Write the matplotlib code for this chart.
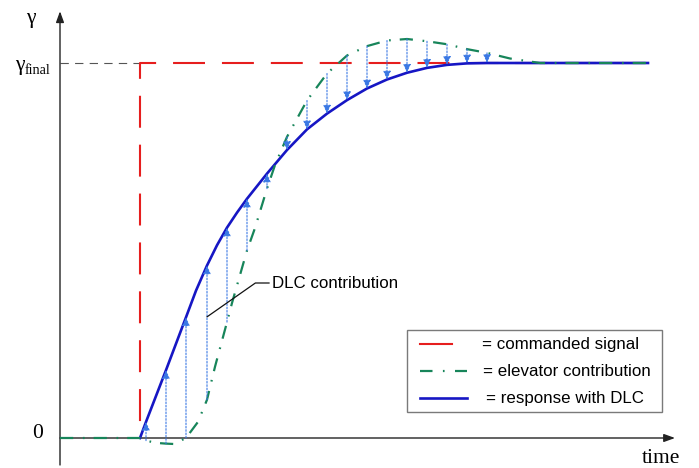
import numpy as np
import matplotlib
matplotlib.use("Agg")
import matplotlib.pyplot as plt

plt.rcParams["lines.scale_dashes"] = False

# Time axis in arbitrary units (step command at t = 0), response normalised to gamma_final = 1
cmd_t = [0.0, 0.0, 25.4]
cmd_y = [0.0, 1.0, 1.0]

elev_t = [-4.0, 0.0, 0.3, 0.8, 1.3, 1.7, 2.3, 2.9, 3.35, 3.75, 4.35, 4.6, 5.35, 5.75,
          6.35, 6.75, 7.35, 8.35, 9.35, 10.35, 11.35, 12.35, 13.35, 14.35, 15.35,
          16.35, 17.35, 18.5, 20.0, 25.4]
elev_y = [0.0, 0.0, -0.007, -0.013, -0.015, -0.016, 0.0, 0.043, 0.102, 0.19, 0.309, 0.36,
          0.5, 0.56, 0.665, 0.728, 0.803, 0.9, 0.972, 1.02, 1.045, 1.06, 1.064, 1.058,
          1.05, 1.037, 1.027, 1.012, 1.0, 1.0]

resp_t = [0.0, 0.3, 1.3, 2.3, 2.8, 3.35, 3.85, 4.35, 4.85, 5.35, 6.35, 7.35, 8.35, 9.35,
          10.35, 11.35, 12.35, 13.35, 14.35, 15.35, 16.35, 17.35, 25.4]
resp_y = [0.0, 0.043, 0.181, 0.322, 0.393, 0.46, 0.514, 0.561, 0.601, 0.638, 0.705,
          0.768, 0.823, 0.865, 0.901, 0.932, 0.956, 0.974, 0.987, 0.995, 0.999, 1.0, 1.0]

# DLC contribution arrows (from elevator contribution to response)
dlc_t = [0.3, 1.3, 2.3, 3.35, 4.35, 5.35, 6.35, 7.35, 8.35, 9.35, 10.35, 11.35,
         12.35, 13.35, 14.35, 15.35, 16.35, 17.35]

legend_labels = ["= commanded signal", "= elevator contribution", "= response with DLC"]

RED = "#e61e1e"
GREEN = "#17855a"
BLUE = "#1616c4"
LBLUE = "#3a78e4"

W, H = 699, 468
fig = plt.figure(figsize=(W / 100, H / 100), dpi=100)
ax = fig.add_axes([0, 0, 1, 1])
# pixel mapping: x_px = 140 + 20 t ; y_px = 438 - 375 y
ax.set_xlim(-7.0, (W - 140) / 20)
ax.set_ylim((438 - H) / 375, 438 / 375)
ax.axis("off")


def fpos(x, y):
    return x / W, 1 - y / H


# axes with arrows
ax.annotate("", xy=(-4, 1.138), xytext=(-4, -0.072),
            arrowprops=dict(arrowstyle="-|>,head_length=0.55,head_width=0.2",
                            color="#222222", lw=1.0, mutation_scale=12, shrinkA=0, shrinkB=0))
ax.annotate("", xy=(26.75, 0), xytext=(-4, 0),
            arrowprops=dict(arrowstyle="-|>,head_length=0.55,head_width=0.2",
                            color="#222222", lw=1.0, mutation_scale=12, shrinkA=0, shrinkB=0))

# gamma_final reference line
ax.plot([-4, 0], [1, 1], color="#555555", lw=0.8, linestyle=(0, (6, 4.5)))

ax.plot(cmd_t, cmd_y, color=RED, lw=1.5, linestyle=(23, (23, 12.2)), zorder=3)
ax.plot(resp_t, resp_y, color=BLUE, lw=1.9, zorder=4, solid_joinstyle="round")
ax.plot(elev_t, elev_y, color=GREEN, lw=1.6, linestyle=(0, (9.5, 7, 1.2, 6.5)), zorder=5)

for t in dlc_t:
    y0 = np.interp(t, elev_t, elev_y)
    y1 = np.interp(t, resp_t, resp_y)
    ax.annotate("", xy=(t, y1), xytext=(t, y0),
                arrowprops=dict(arrowstyle="-|>,head_length=0.45,head_width=0.2",
                                color=LBLUE, lw=0.8, linestyle=(0, (1.2, 1.2)),
                                mutation_scale=11, shrinkA=0, shrinkB=0), zorder=6)

serif = "Liberation Serif"
sans = "Liberation Sans"
fig.text(*fpos(31, 22.5), "γ", family=serif, fontsize=15.5, ha="center", va="baseline")
fig.text(*fpos(25, 70), "γ", family=serif, fontsize=15.5, ha="right", va="baseline")
fig.text(*fpos(25, 73.5), "final", family=serif, fontsize=10.2, ha="left", va="baseline")
fig.text(*fpos(38, 438), "0", family=serif, fontsize=15.5, ha="center", va="baseline")
fig.text(*fpos(661, 463), "time", family=serif, fontsize=15.5, ha="center", va="baseline")

# DLC contribution label
ax.annotate("DLC contribution", xy=(3.35, 0.323), xytext=fpos(272, 283),
            textcoords="figure fraction", family=sans, fontsize=12.2, va="center", ha="left",
            arrowprops=dict(arrowstyle="-", color="#111111", lw=0.9, shrinkA=0, shrinkB=0,
                            connectionstyle="angle,angleA=0,angleB=35,rad=0",
                            relpos=(0, 0.5)), zorder=7)

# legend box drawn by hand
x0, y0 = fpos(407, 412)
x1, y1 = fpos(662, 330)
fig.patches.append(plt.Rectangle((x0, y0), x1 - x0, y1 - y0, transform=fig.transFigure,
                                 fill=True, facecolor="white", edgecolor="#7a7a7a", lw=1.0,
                                 zorder=8))
rows = [344, 371, 398]
samples = [dict(color=RED, lw=1.5, xs=(420, 452), ls="-"),
           dict(color=GREEN, lw=1.6, xs=(420, 467), ls=(0, (9, 7.5, 1.2, 7.5))),
           dict(color=BLUE, lw=1.9, xs=(420, 467), ls="-")]
text_x = [482, 483, 486]
for row, s, lab, tx in zip(rows, samples, legend_labels, text_x):
    xa, ya = fpos(s["xs"][0], row)
    xb, _ = fpos(s["xs"][1], row)
    fig.add_artist(plt.Line2D([xa, xb], [ya, ya], transform=fig.transFigure, color=s["color"],
                              lw=s["lw"], linestyle=s["ls"], zorder=9))
    fig.text(*fpos(tx, row), lab, family=sans, fontsize=12.2, ha="left", va="center", zorder=9)

fig.savefig("out.png", dpi=100)
